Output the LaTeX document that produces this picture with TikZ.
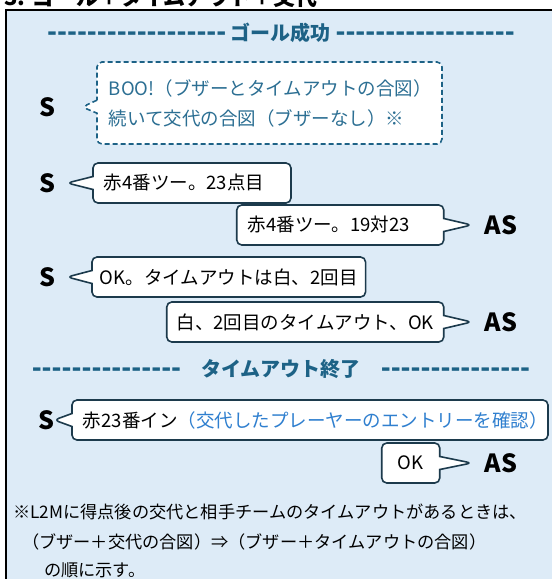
\documentclass[tikz,border=0pt]{standalone}
\usepackage{fontspec}
\setmainfont{Noto Sans CJK JP}
\newfontfamily\dashfont{DejaVu Sans}
\usetikzlibrary{shapes.callouts,positioning,calc}
\definecolor{paneblue}{HTML}{DDEBF7}
\definecolor{headblue}{HTML}{1D6286}
\definecolor{hintblue}{HTML}{2C6F93}
\definecolor{edgeblue}{HTML}{1C3A4C}
\definecolor{notecol}{HTML}{2F7FCF}
\newcommand{\bodysize}{\fontsize{18.5}{30}\selectfont}
\newcommand{\dashrun}[1]{{\dashfont\bfseries\fontsize{24}{24}\selectfont\foreach \i in {1,...,#1}{-}}}
\tikzset{
    pane/.style={draw=black, fill=paneblue, line width=2.5pt},
    heading/.style={font=\fontsize{20}{20}\selectfont\bfseries, text=headblue, inner sep=0pt},
    who/.style={font=\fontsize{25}{25}\selectfont\bfseries, inner sep=3pt},
    says/.style={rectangle callout, draw=edgeblue, fill=white, line width=1.6pt, rounded corners=5pt, font=\bodysize, minimum height=40pt, inner xsep=11pt, align=left, callout pointer width=13pt},
    hint/.style={says, draw=headblue, text=hintblue, dash pattern=on 5pt off 3pt, minimum height=82pt, inner xsep=12pt},
    note/.style={font=\fontsize{17.2}{30}\selectfont, inner sep=0pt, anchor=base west}
}
\begin{document}
\begin{tikzpicture}[x=1pt, y=-1pt]
    \useasboundingbox (0,0) rectangle (552,579);
    \node [anchor=base west, inner sep=0pt, font=\fontsize{22}{22}\selectfont\bfseries] (title) at (4,5) {3. ゴール＋タイムアウト＋交代};
    \draw [pane] (6,10) rectangle (580,600);

    % goal
    \node [heading] (goal) at (281,33) {\dashrun{18} ゴール成功 \dashrun{18}};
    \node [who] (s1) at (47,107) {S};
    \node [hint, text width=321pt, right=38pt of s1, yshift=4pt, callout absolute pointer={($(s1.east)+(24,0)$)}] (b1) {BOO!（ブザーとタイムアウトの合図）\\続いて交代の合図（ブザーなし）※};
    \node [who] (s2) at (47,183) {S};
    \node [says, text width=176pt, right=34pt of s2, callout absolute pointer={($(s2.east)+(9,0)$)}] (b2) {赤4番ツー。23点目};
    \node [who] (a1) at (501,225) {AS};
    \node [says, text width=185pt, left=37pt of a1, callout absolute pointer={($(a1.west)+(-10,0)$)}] (b3) {赤4番ツー。19対23};
    \node [who] (s3) at (47,277) {S};
    \node [says, minimum width=272pt, inner xsep=8pt, right=33pt of s3, callout absolute pointer={($(s3.east)+(9,0)$)}] (b4) {OK。タイムアウトは白、2回目};
    \node [who] (a2) at (501,322) {AS};
    \node [says, minimum width=277pt, inner xsep=8pt, left=37pt of a2, callout absolute pointer={($(a2.west)+(-10,0)$)}] (b5) {白、2回目のタイムアウト、OK};

    % time-out over
    \node [heading] (over) at (281,369) {\dashrun{15}\quad タイムアウト終了\quad \dashrun{15}};
    \node [who] (s4) at (46,420) {S};
    \node [says, text width=454pt, right=14pt of s4, callout absolute pointer={($(s4.east)+(-3,0)$)}] (b6) {赤23番イン\textcolor{notecol}{（交代したプレーヤーのエントリーを確認）}};
    \node [who] (a3) at (501,463) {AS};
    \node [says, minimum width=58pt, inner xsep=8pt, left=41pt of a3, callout absolute pointer={($(a3.west)+(-10,0)$)}] (b7) {OK};

    % footnote
    \node [note] (n1) at (13,518) {※L2Mに得点後の交代と相手チームのタイムアウトがあるときは、};
    \node [note] (n2) at (22,548) {（ブザー＋交代の合図）⇒（ブザー＋タイムアウトの合図）};
    \node [note] (n3) at (44,576) {の順に示す。};
\end{tikzpicture}
\end{document}
